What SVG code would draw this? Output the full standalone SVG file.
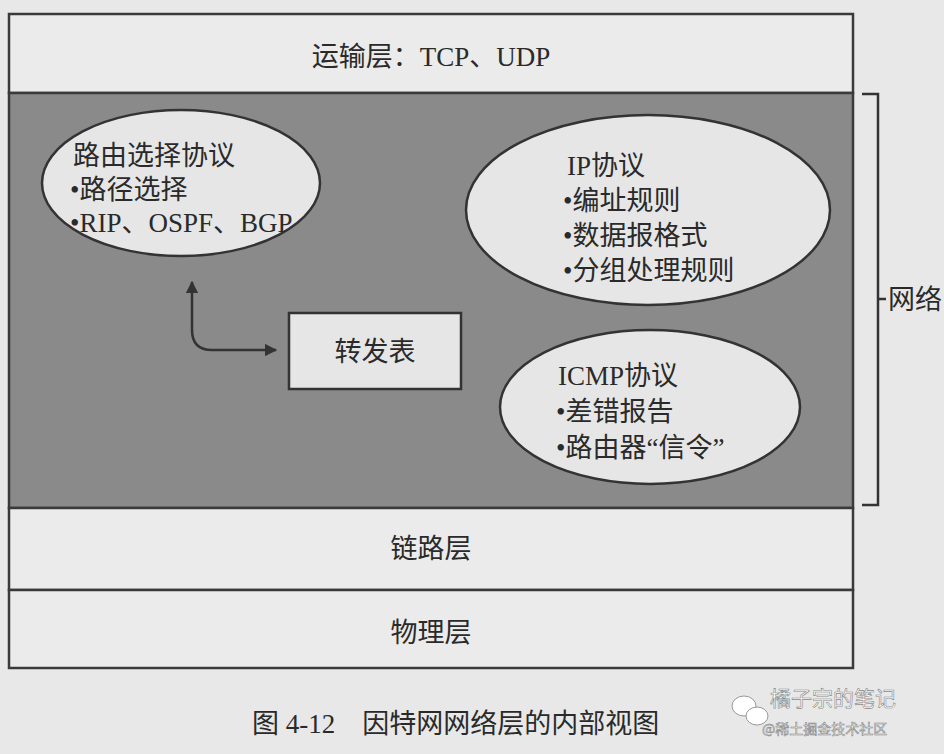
<svg xmlns="http://www.w3.org/2000/svg" width="944" height="754" viewBox="0 0 944 754">
<defs>
<style>
.t{font-family:"Liberation Serif","Noto Sans CJK SC",serif;font-size:27px;fill:#2a2a2a}
.layer{fill:#ebebeb;stroke:#3a3a3a;stroke-width:2.5}
.oval{fill:#e6e6e6;stroke:#333;stroke-width:2.5}
.line{fill:none;stroke:#333;stroke-width:2.5}
.wm{font-family:"Noto Sans CJK SC",sans-serif;fill:#fff;stroke:#888;stroke-width:0.6}
</style>
<marker id="ah" viewBox="0 0 10 10" refX="9" refY="5" markerWidth="5" markerHeight="5" orient="auto-start-reverse">
<path d="M0,0 L10,5 L0,10 z" fill="#333"/>
</marker>
</defs>
<rect width="944" height="754" fill="#e8e8e8"/>

<g id="transport">
<rect class="layer" x="9" y="14" width="844" height="79"/>
<text class="t" x="431" y="66" text-anchor="middle">运输层：TCP、UDP</text>
</g>

<g id="network">
<rect x="9" y="93" width="844" height="415" fill="#8a8a8a" stroke="#3a3a3a" stroke-width="2.5"/>
</g>

<g id="routing">
<ellipse class="oval" cx="181" cy="183" rx="139" ry="73"/>
<text class="t" x="73" y="165">路由选择协议</text>
<text class="t" x="70" y="199">•路径选择</text>
<text class="t" x="70" y="232">•RIP、OSPF、BGP</text>
</g>

<g id="ip">
<ellipse class="oval" cx="648" cy="210" rx="182" ry="95"/>
<text class="t" x="567" y="175">IP协议</text>
<text class="t" x="563" y="210">•编址规则</text>
<text class="t" x="563" y="245">•数据报格式</text>
<text class="t" x="563" y="280">•分组处理规则</text>
</g>

<g id="icmp">
<ellipse class="oval" cx="650" cy="407" rx="150" ry="77"/>
<text class="t" x="558" y="385">ICMP协议</text>
<text class="t" x="556" y="421">•差错报告</text>
<text class="t" x="556" y="457">•路由器“信令”</text>
</g>

<g id="fwtable">
<rect x="289" y="313" width="172" height="76" fill="#e6e6e6" stroke="#333" stroke-width="2.5"/>
<text class="t" x="375" y="361" text-anchor="middle">转发表</text>
</g>

<g id="connectors">
<path class="line" d="M192,282 L192,330 Q192,350 212,350 L276,350" marker-start="url(#ah)" marker-end="url(#ah)"/>
</g>

<g id="link">
<rect class="layer" x="9" y="508" width="844" height="82"/>
<text class="t" x="431" y="558" text-anchor="middle">链路层</text>
</g>

<g id="physical">
<rect class="layer" x="9" y="590" width="844" height="78"/>
<text class="t" x="431" y="642" text-anchor="middle">物理层</text>
</g>

<g id="bracket">
<path class="line" d="M862,94 L878,94 L878,505 L862,505" stroke-width="2"/>
<path class="line" d="M878,299 L886,299" stroke-width="2"/>
<text class="t" x="888" y="309">网络</text>
</g>

<g id="caption">
<text class="t" x="252" y="733" font-size="28">图 4-12　因特网网络层的内部视图</text>
</g>

<g id="watermark">
<ellipse cx="744" cy="706" rx="12" ry="10" fill="#fff" stroke="#999" stroke-width="1"/>
<ellipse cx="757" cy="716" rx="11" ry="9" fill="#fff" stroke="#999" stroke-width="1"/>
<text class="wm" x="770" y="706" font-size="21">橘子宗的笔记</text>
<text class="wm" x="762" y="734" font-size="14">@稀土掘金技术社区</text>
</g>
</svg>
